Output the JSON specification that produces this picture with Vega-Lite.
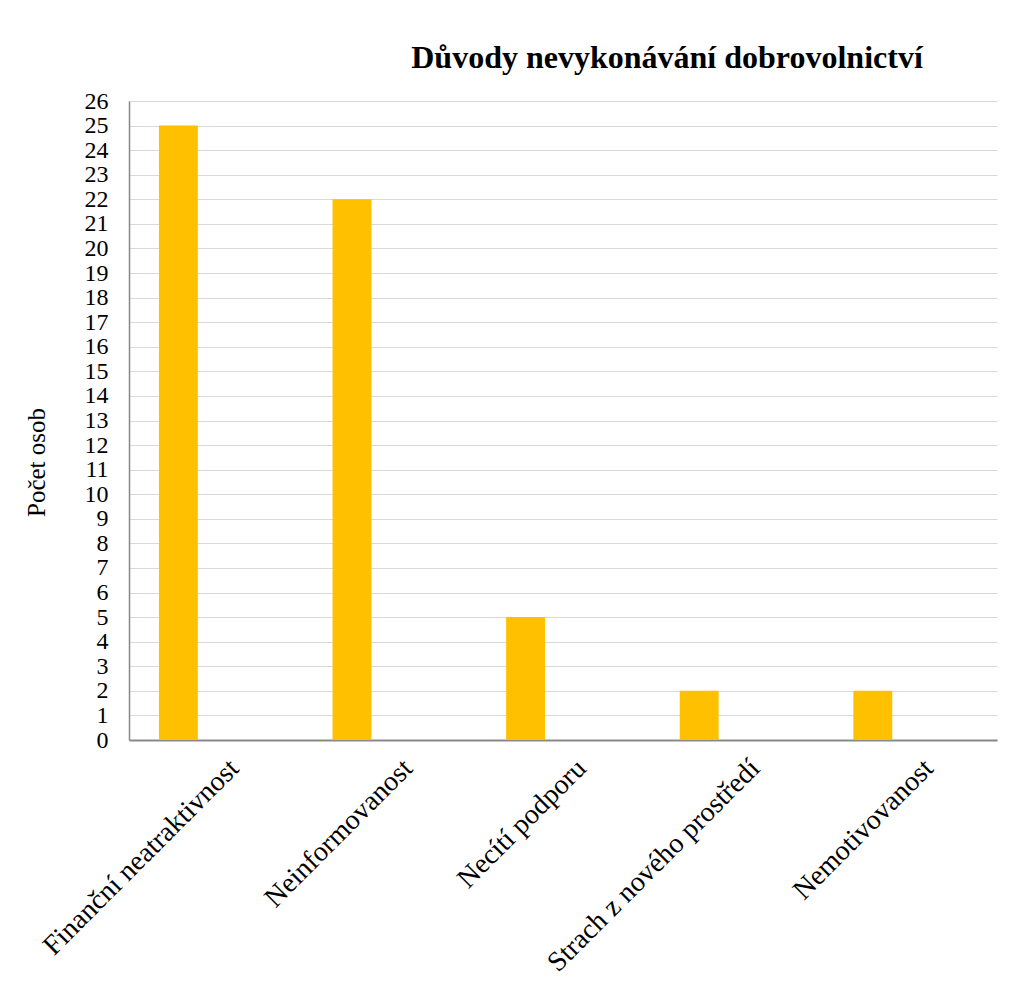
{
  "$schema": "https://vega.github.io/schema/vega-lite/v6.json",
  "autosize": {"type": "none"},
  "padding": {"left": 129, "top": 101, "right": 17, "bottom": 243},
  "width": 868,
  "height": 639,
  "background": "white",
  "title": {
    "text": "Důvody nevykonávání dobrovolnictví",
    "font": "Liberation Serif",
    "fontSize": 32,
    "fontWeight": "bold",
    "color": "#000000",
    "anchor": "middle",
    "dx": 104,
    "offset": 14
  },
  "data": {
    "values": [
      {"duvod": "Finanční neatraktivnost", "pocet": 25, "serie": "a"},
      {"duvod": "Neinformovanost", "pocet": 22, "serie": "a"},
      {"duvod": "Necítí podporu", "pocet": 5, "serie": "a"},
      {"duvod": "Strach z nového prostředí", "pocet": 2, "serie": "a"},
      {"duvod": "Nemotivovanost", "pocet": 2, "serie": "a"}
    ]
  },
  "mark": {"type": "bar", "color": "#FFC000"},
  "encoding": {
    "x": {
      "field": "duvod",
      "type": "nominal",
      "sort": null,
      "scale": {"paddingInner": 0, "paddingOuter": 0},
      "axis": {
        "title": null,
        "labelAngle": -45,
        "labelAlign": "right",
        "labelBaseline": "top",
        "labelPadding": 14,
        "labelOffset": 9,
        "labelFont": "Liberation Serif",
        "labelFontSize": 28,
        "labelColor": "#000000",
        "labelLimit": 400,
        "ticks": false,
        "grid": false,
        "domainColor": "#898989",
        "domainWidth": 2
      }
    },
    "xOffset": {
      "field": "serie",
      "type": "nominal",
      "scale": {"domain": ["a", "b"], "paddingInner": 0.48, "paddingOuter": 0.4}
    },
    "y": {
      "field": "pocet",
      "type": "quantitative",
      "scale": {"domain": [0, 26], "nice": false},
      "axis": {
        "title": "Počet osob",
        "titleFont": "Liberation Serif",
        "titleFontSize": 25,
        "titleFontWeight": "normal",
        "titleColor": "#000000",
        "titleAngle": -90,
        "titleAlign": "center",
        "titleBaseline": "middle",
        "titleX": -93,
        "titleY": 361,
        "values": [0,1,2,3,4,5,6,7,8,9,10,11,12,13,14,15,16,17,18,19,20,21,22,23,24,25,26],
        "labelFont": "Liberation Serif",
        "labelFontSize": 24,
        "labelColor": "#000000",
        "labelPadding": 21,
        "labelOverlap": false,
        "ticks": false,
        "grid": true,
        "gridColor": "#d9d9d9",
        "gridWidth": 1,
        "domainColor": "#898989",
        "domainWidth": 1.5
      }
    }
  },
  "config": {
    "view": {"stroke": null}
  }
}
